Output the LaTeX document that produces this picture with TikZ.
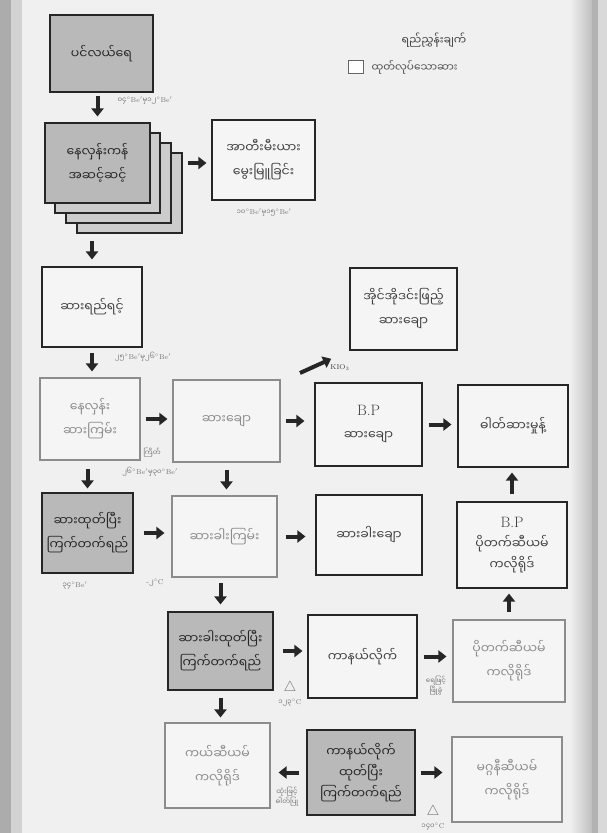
\documentclass[tikz,border=0pt]{standalone}
\usepackage{fontspec}
\newfontfamily\mya[Script=Myanmar]{Noto Sans Myanmar UI}
\usetikzlibrary{arrows.meta}
\newcommand{\baume}[1]{{\mya #1}$^{\circ}$Be$'$}
\tikzset{
    box/.style={rectangle,draw=black!85,line width=1.1pt,fill=white!92!gray,text=black!75,
        align=center,font=\mya\fontsize{12.5}{24}\selectfont},
    dim/.style={box,draw=black!45,text=black!45},
    raw/.style={box,fill=gray!55,text=black!85},
    pan/.style={box,fill=gray!40,minimum width=105pt,minimum height=80pt},
    flow/.style={-{Triangle[length=8pt,width=12pt]},line width=4pt,draw=black!85},
    note/.style={font=\rmfamily\fontsize{7}{8}\selectfont,text=black!55,inner sep=1pt},
    mnote/.style={note,align=center,font=\mya\fontsize{7}{9}\selectfont},
}

\begin{document}
\begin{tikzpicture}[x=1pt,y=-1pt]
    \useasboundingbox (0,0) rectangle (607,833);
    \fill[gray!12] (0,0) rectangle (607,833);
    \fill[gray!65] (0,0) rectangle (11,833);
    \fill[gray!35] (11,0) rectangle (22,833);
    \shade[left color=gray!12,right color=gray!50] (570,0) rectangle (592,833);
    \fill[gray!60] (592,0) rectangle (598,833);
    \fill[gray!30] (598,0) rectangle (607,833);

    \node[font=\mya\fontsize{11}{12}\selectfont,text=black!75] (key) at (434,40) {ရည်ညွှန်းချက်};
    \node[draw=black!60,line width=0.8pt,fill=white,minimum width=15pt,minimum height=13pt,inner sep=0pt] (keybox) at (356,67) {};
    \node[anchor=west,font=\mya\fontsize{10.5}{12}\selectfont,text=black!70] (keytext) at (368,67) {ထုတ်လုပ်သောဆား};

    \node[raw,minimum width=103pt,minimum height=77pt] (sea) at (101.5,53.5) {ပင်လယ်ရေ};
    \foreach \dx/\dy in {32/30,21/20,10/10}
        \node[pan] (pan\dx) at (97.5+\dx,163+\dy) {};
    \node[pan,fill=gray!55,text=black!85] (pans) at (97.5,163) {နေလှန်းကန်\\အဆင့်ဆင့်};
    \node[box,minimum width=103pt,minimum height=80pt] (artemia) at (263.5,160) {အာတီးမီးယား\\မွေးမြူခြင်း};
    \node[box,minimum width=100pt,minimum height=80pt] (brine) at (92,307) {ဆားရည်ရင့်};
    \node[dim,minimum width=100pt,minimum height=82pt] (crude) at (90,419) {နေလှန်း\\ဆားကြမ်း};
    \node[dim,minimum width=107pt,minimum height=82pt] (fine) at (226.5,421) {ဆားချော};
    \node[box,minimum width=107pt,minimum height=83pt] (bpsalt) at (368.5,424.5) {{\rmfamily\fontsize{15}{24}\selectfont B.P}\\ဆားချော};
    \node[box,minimum width=110pt,minimum height=82pt] (chem) at (513,426) {ဓါတ်ဆားမှုန့်};
    \node[box,minimum width=107pt,minimum height=82pt] (iodine) at (403.5,309) {အိုင်အိုဒင်းဖြည့်\\ဆားချော};
    \node[raw,minimum width=91pt,minimum height=80pt] (bittern) at (87.5,533) {ဆားထုတ်ပြီး\\ကြက်တက်ရည်};
    \node[dim,minimum width=105pt,minimum height=81pt] (epsom) at (224.5,536.5) {ဆားခါးကြမ်း};
    \node[box,minimum width=106pt,minimum height=80pt] (epsomfine) at (369,535) {ဆားခါးချော};
    \node[box,minimum width=110pt,minimum height=86pt,font=\mya\fontsize{12.5}{21}\selectfont] (bpkcl) at (512,545) {{\rmfamily\fontsize{15}{21}\selectfont B.P}\\ပိုတက်ဆီယမ်\\ကလိုရိုဒ်};
    \node[dim,minimum width=112pt,minimum height=82pt] (kcl) at (509,661) {ပိုတက်ဆီယမ်\\ကလိုရိုဒ်};
    \node[raw,minimum width=105pt,minimum height=78pt] (bittern2) at (220.5,651) {ဆားခါးထုတ်ပြီး\\ကြက်တက်ရည်};
    \node[box,minimum width=109pt,minimum height=83pt] (carn) at (362.5,656.5) {ကာနယ်လိုက်};
    \node[dim,minimum width=105pt,minimum height=85pt] (cacl) at (217.5,765.5) {ကယ်ဆီယမ်\\ကလိုရိုဒ်};
    \node[raw,minimum width=108pt,minimum height=85pt,font=\mya\fontsize{12.5}{21}\selectfont] (bittern3) at (361,772.5) {ကာနယ်လိုက်\\ထုတ်ပြီး\\ကြက်တက်ရည်};
    \node[dim,minimum width=110pt,minimum height=85pt] (mgcl) at (507,779.5) {မဂ္ဂနီဆီယမ်\\ကလိုရိုဒ်};

    \node[note] (n1) at (145,101) {\baume{၀၄}{\mya မှ}\baume{၁၂}};
    \node[note] (n2) at (264,213) {\baume{၁၀}{\mya မှ}\baume{၁၅}};
    \node[note] (n3) at (143,357) {\baume{၂၅}{\mya မှ}\baume{၂၆}};
    \node[mnote] (n4) at (152,453) {ကြိတ်};
    \node[note] (n5) at (150,472) {\baume{၂၆}{\mya မှ}\baume{၃၀}};
    \node[note,text=black!75] (n6) at (340,368) {KIO$_3$};
    \node[note] (n7) at (75,586) {\baume{၃၄}};
    \node[note] (n8) at (155,583) {-{\mya ၂}$^{\circ}$C};
    \node[note,font=\fontsize{14}{14}\selectfont] (n9) at (290,688) {$\triangle$};
    \node[note] (n10) at (290,703) {{\mya ၁၂၃}$^{\circ}$C};
    \node[mnote] (n11) at (436,686) {ရေဖြင့်\\ဖြိုခွဲ};
    \node[mnote] (n12) at (287,797) {ထုံးဖြင့်\\ဓါတ်ပြု};
    \node[note,font=\fontsize{14}{14}\selectfont] (n13) at (433,812) {$\triangle$};
    \node[note] (n14) at (433,827) {{\mya ၁၄၀}$^{\circ}$C};

    \coordinate (kio) at (300,373);
    \draw[flow,shorten <=3pt,shorten >=6pt] (sea.south -| pans.north) -- (pans.north);
    \draw[flow,shorten <=37pt,shorten >=5pt] (pans.east) -- (pans.east -| artemia.west);
    \draw[flow,shorten <=37pt,shorten >=7pt] (brine.north |- pans.south) -- (brine.north);
    \draw[flow,shorten <=5pt,shorten >=6pt] (brine.south) -- (brine.south |- crude.north);
    \draw[flow,shorten <=5pt,shorten >=5pt] (crude.east) -- (crude.east -| fine.west);
    \draw[flow,shorten <=5pt,shorten >=10pt] (fine.east) -- (fine.east -| bpsalt.west);
    \draw[flow,shorten <=6pt,shorten >=6pt] (bpsalt.east) -- (bpsalt.east -| chem.west);
    \draw[flow,shorten >=20pt] (kio) -- (iodine.south west);
    \draw[flow,shorten <=8pt,shorten >=4pt] (crude.south -| bittern.north) -- (bittern.north);
    \draw[flow,shorten <=7pt,shorten >=6pt] (fine.south) -- (fine.south |- epsom.north);
    \draw[flow,shorten <=10pt,shorten >=7pt] (bittern.east) -- (bittern.east -| epsom.west);
    \draw[flow,shorten <=8pt,shorten >=10pt] (epsom.east) -- (epsom.east -| epsomfine.west);
    \draw[flow,shorten <=7pt,shorten >=5pt] (bpkcl.north) -- (bpkcl.north |- chem.south);
    \draw[flow,shorten <=7pt,shorten >=5pt] (kcl.north) -- (kcl.north |- bpkcl.south);
    \draw[flow,shorten <=5pt,shorten >=7pt] (epsom.south -| bittern2.north) -- (bittern2.north);
    \draw[flow,shorten <=9pt,shorten >=5pt] (bittern2.east) -- (bittern2.east -| carn.west);
    \draw[flow,shorten <=6pt,shorten >=6pt] (carn.east) -- (carn.east -| kcl.west);
    \draw[flow,shorten <=7pt,shorten >=5pt] (bittern2.south) -- (bittern2.south |- cacl.north);
    \draw[flow,shorten <=7pt,shorten >=8pt] (bittern3.west) -- (bittern3.west -| cacl.east);
    \draw[flow,shorten <=5pt,shorten >=9pt] (bittern3.east) -- (bittern3.east -| mgcl.west);
\end{tikzpicture}
\end{document}
